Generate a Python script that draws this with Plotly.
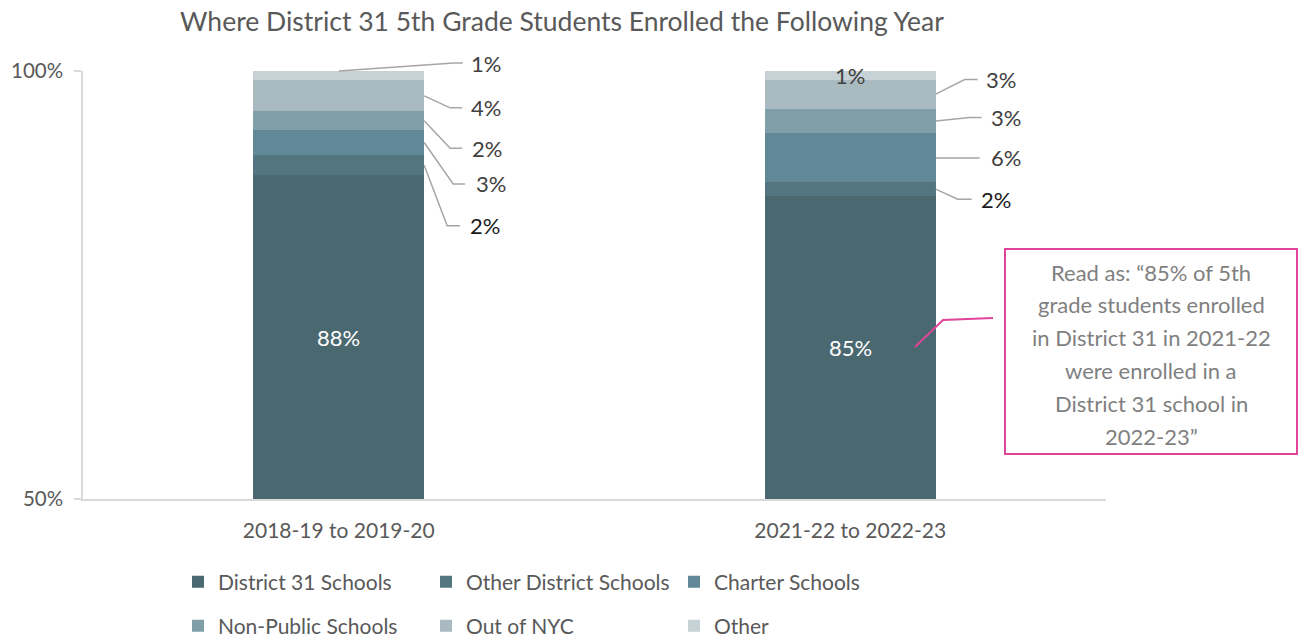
import plotly.graph_objects as go

# ---------------- data ----------------
categories = ["2018-19 to 2019-20", "2021-22 to 2022-23"]
series_names = ["District 31 Schools", "Other District Schools", "Charter Schools",
                "Non-Public Schools", "Out of NYC", "Other"]
district31 = [87.8, 85.4]
other_district = [2.4, 1.6]
charter = [2.9, 5.7]
non_public = [2.2, 2.9]
out_of_nyc = [3.6, 3.4]
other = [1.1, 1.0]
y_tick_values = [50, 100]
y_tick_labels = ["50%", "100%"]
chart_title = "Where District 31 5th Grade Students Enrolled the Following Year"
note_lines = ["Read as: \u201c85% of 5th", "grade students enrolled",
              "in District 31 in 2021-22", "were enrolled in a",
              "District 31 school in", "2022-23\u201d"]

series = [district31, other_district, charter, non_public, out_of_nyc, other]

# ---------------- style ----------------
colors = ["#4a6870", "#52757f", "#618896", "#809fa9", "#a9bbc1", "#c7d2d6"]
FONT = "Lato"
TXT = "#595959"
W, H = 1302, 639
L, R, T, B = 83, 196, 71, 140
PW, PH = W - L - R, H - T - B
BARGAP = 0.666
HALF = (1 - BARGAP) / 2
LBL = 22
X_RANGE = [-0.5, len(categories) - 0.5]
Y_RANGE = [y_tick_values[0], y_tick_values[-1]]


def pxx(px):
    return (px - L) / PW


def pxy(py):
    return (H - B - py) / PH


def d2px(xv):
    return (xv - X_RANGE[0]) / (X_RANGE[1] - X_RANGE[0])


def d2py(yv):
    return (yv - Y_RANGE[0]) / (Y_RANGE[1] - Y_RANGE[0])


fig = go.Figure()
for k, (name, vals, col) in enumerate(zip(series_names, series, colors)):
    fig.add_trace(go.Bar(
        x=categories, y=vals, name=name, marker_color=col, marker_line_width=0,
        legend="legend" if k < 3 else "legend2", hoverinfo="skip"))

annotations = []
shapes = []

# inside labels for District 31
for i, v in enumerate(district31):
    annotations.append(dict(x=i, y=(y_tick_values[0] + v) / 2, xref="x", yref="y",
                            text=f"{round(v)}%", showarrow=False,
                            font=dict(family=FONT, size=LBL, color="white")))

# leader-line label specs per bar: segment index -> (elbow dx, elbow dy, end dx, label dx)
specs = [
    {4: (26, -12, 38, 45), 3: (26, -27.5, 38, 46), 2: (29, -41.5, 41, 50), 1: (23, -60.5, 36, 44)},
    {4: (29, 14.5, 42, 48), 3: (34, 3.5, 46, 53), 2: (22, 0, 44, 53), 1: (22, -10, 36, 43)},
]
label_colors = {1: "#1a1a1a"}
for i in range(len(categories)):
    cum = 0
    mids = []
    for s in series:
        mids.append(cum + s[i] / 2)
        cum += s[i]
    for j, (ex, ey, endx, lx) in specs[i].items():
        shapes.append(dict(type="path", xref="paper", yref="paper", xsizemode="pixel", ysizemode="pixel",
                           xanchor=d2px(i + HALF), yanchor=d2py(mids[j]),
                           path=f"M0,0 L{ex},{ey} L{endx},{ey}",
                           line=dict(color="#a6a6a6", width=1.5)))
        annotations.append(dict(x=i + HALF, y=mids[j], xref="x", yref="y", xanchor="left",
                                xshift=lx, yshift=ey, text=f"{round(series[j][i])}%",
                                showarrow=False,
                                font=dict(family=FONT, size=LBL, color=label_colors.get(j, "#404040"))))

# "Other" segment labels
top_total = sum(s[0] for s in series)
shapes.append(dict(type="path", xref="paper", yref="paper", xsizemode="pixel", ysizemode="pixel",
                   xanchor=d2px(0), yanchor=d2py(min(top_total, Y_RANGE[1])),
                   path="M0,0 L115,8 L124,8",
                   line=dict(color="#a6a6a6", width=1.5)))
annotations.append(dict(x=0, y=top_total, xref="x", yref="y", xanchor="left", xshift=130, yshift=8,
                        text=f"{round(other[0])}%", showarrow=False,
                        font=dict(family=FONT, size=LBL, color="#404040")))
annotations.append(dict(x=1, y=sum(s[1] for s in series) - other[1] / 2, xref="x", yref="y",
                        text=f"{round(other[1])}%", showarrow=False,
                        font=dict(family=FONT, size=LBL, color="#404040")))

# callout box
PINK = "#e0449a"
shapes.append(dict(type="rect", xref="paper", yref="paper",
                   x0=pxx(1005), x1=pxx(1297), y0=pxy(454), y1=pxy(249),
                   line=dict(color=PINK, width=2), fillcolor="white"))
shapes.append(dict(type="path", xref="paper", yref="paper",
                   path=f"M{pxx(915)},{pxy(347)} L{pxx(943)},{pxy(320)} L{pxx(993)},{pxy(318)}",
                   line=dict(color=PINK, width=2)))
for n, line in enumerate(note_lines):
    annotations.append(dict(x=pxx(1151), y=pxy(272 + n * 32.8), xref="paper", yref="paper",
                            text=line, showarrow=False, xanchor="center", yanchor="middle",
                            font=dict(family=FONT, size=22, color="#7f7f7f")))

legend_common = dict(orientation="h", xanchor="left", yanchor="middle",
                     entrywidth=203, entrywidthmode="pixels", traceorder="normal",
                     font=dict(family=FONT, size=21, color=TXT))

fig.update_layout(
    width=W, height=H, margin=dict(l=L, r=R, t=T, b=B, autoexpand=False),
    paper_bgcolor="white", plot_bgcolor="white",
    barmode="stack", bargap=BARGAP,
    title=dict(text=chart_title, x=562 / W, xanchor="center", y=1 - 22 / H, yanchor="middle",
               font=dict(family=FONT, size=26.5, color=TXT)),
    xaxis=dict(showline=True, linecolor="#d9d9d9", linewidth=1.5, ticks="",
               tickfont=dict(family=FONT, size=21, color=TXT), ticklabelstandoff=12,
               range=X_RANGE),
    yaxis=dict(range=Y_RANGE, tickvals=y_tick_values, ticktext=y_tick_labels, showgrid=False,
               zeroline=False, showline=True, linecolor="#d9d9d9", linewidth=1.5,
               ticks="outside", ticklen=7, tickcolor="#d9d9d9", tickwidth=1.5,
               ticklabelstandoff=7,
               tickfont=dict(family=FONT, size=20.5, color=TXT)),
    legend=dict(x=pxx(178), y=pxy(582), **legend_common),
    legend2=dict(x=pxx(178), y=pxy(626), **legend_common),
    annotations=annotations, shapes=shapes,
)

fig.write_html("out.html", config={"displayModeBar": False},
               post_script="document.body.style.margin='0';document.body.style.overflow='hidden';")
